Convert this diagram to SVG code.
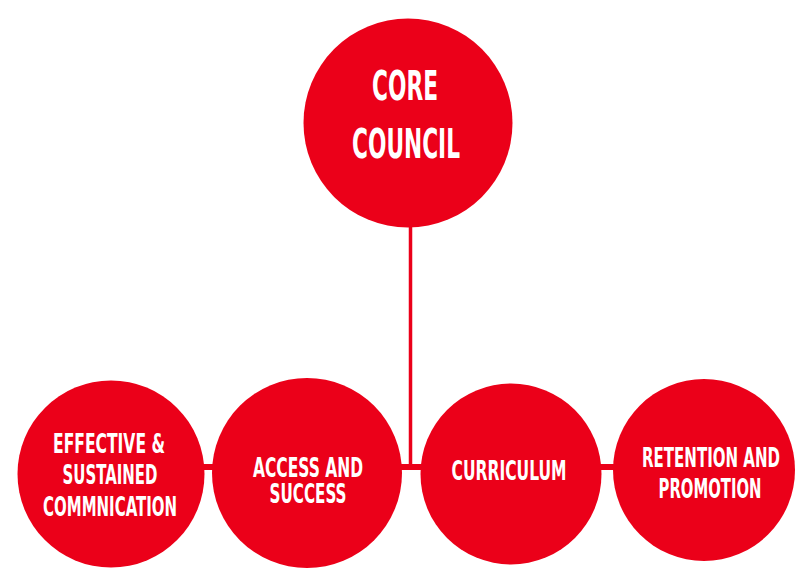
<svg xmlns="http://www.w3.org/2000/svg" width="800" height="569" viewBox="0 0 800 569">
<style>
.node{fill:#EB0019;}
.conn{stroke:#EB0019;fill:none;}
.t{fill:#FFFFFF;font-family:"DejaVu Sans Condensed","Liberation Sans Narrow","Liberation Sans",sans-serif;font-weight:bold;text-anchor:middle;}
.big{font-size:41px;}
.sm{font-size:26px;}
</style>
<rect width="800" height="569" fill="#FFFFFF"/>
<g id="connectors">
<line class="conn" x1="410.5" y1="220" x2="410.5" y2="467" stroke-width="3.5"/>
<line class="conn" x1="195" y1="467" x2="620" y2="467" stroke-width="6"/>
</g>
<g id="core-council">
<circle class="node" cx="408" cy="123" r="104.5"/>
<text class="t big" x="405" y="100" textLength="66" lengthAdjust="spacingAndGlyphs">CORE</text>
<text class="t big" x="406" y="158" textLength="108" lengthAdjust="spacingAndGlyphs">COUNCIL</text>
</g>
<g id="effective-communication">
<circle class="node" cx="111" cy="474" r="93.5"/>
<text class="t sm" x="109" y="453" textLength="112" lengthAdjust="spacingAndGlyphs">EFFECTIVE &amp;</text>
<text class="t sm" x="110" y="484" textLength="95" lengthAdjust="spacingAndGlyphs">SUSTAINED</text>
<text class="t sm" x="110" y="516" textLength="134" lengthAdjust="spacingAndGlyphs">COMMNICATION</text>
</g>
<g id="access-success">
<circle class="node" cx="307" cy="473" r="95"/>
<text class="t sm" x="308" y="477" textLength="110" lengthAdjust="spacingAndGlyphs">ACCESS AND</text>
<text class="t sm" x="308" y="503" textLength="77" lengthAdjust="spacingAndGlyphs">SUCCESS</text>
</g>
<g id="curriculum">
<circle class="node" cx="511" cy="474" r="90.5"/>
<text class="t sm" x="509" y="480" textLength="115" lengthAdjust="spacingAndGlyphs">CURRICULUM</text>
</g>
<g id="retention-promotion">
<circle class="node" cx="704" cy="470" r="91"/>
<text class="t sm" x="711" y="467" textLength="138" lengthAdjust="spacingAndGlyphs">RETENTION AND</text>
<text class="t sm" x="710" y="498" textLength="103" lengthAdjust="spacingAndGlyphs">PROMOTION</text>
</g>
</svg>
